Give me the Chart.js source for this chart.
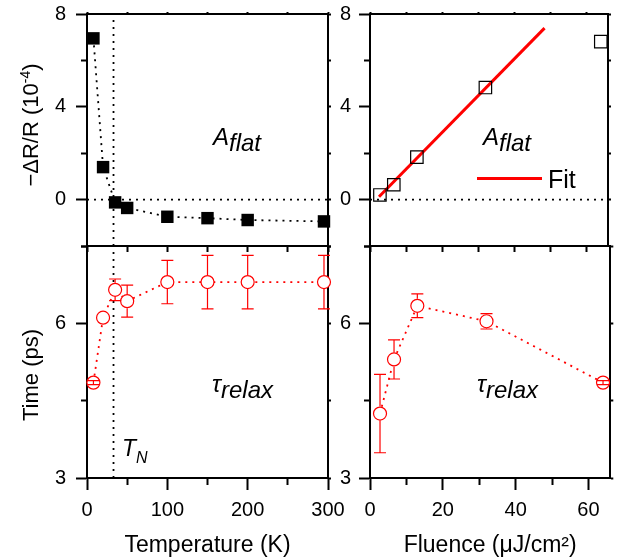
<!DOCTYPE html>
<html><head><meta charset="utf-8">
<script src="https://cdn.jsdelivr.net/npm/chart.js@4.4.1/dist/chart.umd.min.js"></script>
<style>
html,body{margin:0;padding:0;background:#fff;}
#wrap{position:relative;width:618px;height:557px;overflow:hidden;background:#fff;}
canvas{position:absolute;left:0;top:0;}
.lbl{position:absolute;white-space:nowrap;color:#000;font-family:"Liberation Sans",Arial,sans-serif;line-height:1;}
.ann{font-size:24px;font-style:italic;}
.ann .s{position:relative;top:6px;font-style:italic;}
.ytitle{font-size:22px;transform:translate(-50%,-50%) rotate(-90deg);}
.ytitle sup{font-size:14px;position:relative;top:-2px;vertical-align:top;}
</style></head><body>
<div id="wrap">
<canvas id="cTL" width="618" height="557"></canvas>
<canvas id="cBL" width="618" height="557"></canvas>
<canvas id="cTR" width="618" height="557"></canvas>
<canvas id="cBR" width="618" height="557"></canvas>
<div class="lbl ytitle" style="left:31px;top:125px">&minus;&Delta;R/R (10<sup>-4</sup>)</div>
<div class="lbl ytitle" style="left:31px;top:375px">Time (ps)</div>
<div class="lbl ann" style="left:213px;top:125px">A<span class="s">flat</span></div>
<div class="lbl ann" style="left:483px;top:125px">A<span class="s">flat</span></div>
<div class="lbl ann" style="left:212px;top:372px">&tau;<span class="s">relax</span></div>
<div class="lbl ann" style="left:477px;top:372px">&tau;<span class="s">relax</span></div>
<div class="lbl ann" style="left:122px;top:437px;font-size:23px">T<span class="s" style="font-size:16px;top:7px">N</span></div>
<div style="position:absolute;left:477px;top:177px;width:65px;height:3px;background:#ff0000"></div>
<div class="lbl" style="left:548px;top:167px;font-size:25px">Fit</div>
</div>
<script>
// ---- data ----
const temperature      = [8, 20, 35, 50, 100, 150, 200, 295];
const aflatVsTemp      = [6.95, 1.4, -0.12, -0.36, -0.74, -0.8, -0.88, -0.94];
const tauVsTemp        = [4.85, 6.11, 6.65, 6.43, 6.8, 6.8, 6.8, 6.8];
const tauVsTempErr     = [0.04, null, 0.21, 0.31, 0.42, 0.52, 0.52, 0.52];
const fluence          = [2.75, 6.6, 13, 32, 64];
const aflatVsFluence   = [0.2, 0.64, 1.83, 4.83, 6.81];
const tauVsFluence     = [4.25, 5.3, 6.34, 6.04, 4.85];
const tauVsFluenceErr  = [0.76, 0.38, 0.23, 0.15, 0.04];
const fitFluence       = [2.5, 48.4];
const fitAflat         = [0.12, 7.39];
const tNeel            = 33;
const tempTickLabels   = [0, 100, 200, 300];
const fluenceTickLabels= [0, 20, 40, 60];
const aflatTickLabels  = [0, 4, 8];
const tauTickLabels    = [3, 6];

const FONT = "'Liberation Sans', Arial, sans-serif";
const W = 618, H = 557;
const RED = '#ff0000';

function pts(xs, ys){ return xs.map((x,i)=>({x:x, y:ys[i]})); }

const errorBars = {
  id:'errorBars',
  afterDatasetsDraw(chart){
    const ctx = chart.ctx, xs = chart.scales.x, ys = chart.scales.y;
    chart.data.datasets.forEach(ds=>{
      if(!ds.errors) return;
      ctx.save();
      ctx.strokeStyle = ds.borderColor; ctx.lineWidth = 1.2; ctx.setLineDash([]);
      const r = ds.pointRadius + 0.5;
      ds.data.forEach((p,j)=>{
        const e = ds.errors[j];
        if (e === null || e === undefined) return;
        const px = xs.getPixelForValue(p.x), py = ys.getPixelForValue(p.y);
        const top = ys.getPixelForValue(p.y+e), bot = ys.getPixelForValue(p.y-e);
        ctx.beginPath();
        if (py-top > r){ ctx.moveTo(px,top); ctx.lineTo(px,py-r); ctx.moveTo(px,py+r); ctx.lineTo(px,bot); }
        else { ctx.moveTo(px,top); ctx.lineTo(px,bot); }
        ctx.moveTo(px-6,top); ctx.lineTo(px+6,top);
        ctx.moveTo(px-6,bot); ctx.lineTo(px+6,bot);
        ctx.stroke();
      });
      ctx.restore();
    });
  }
};

function labelCb(labels){ return v => labels.includes(v) ? String(v) : ''; }
function stepTicks(min, max, step){
  return s => {
    const t = [];
    for (let i = 0; min + i*step <= max + 1e-9; i++) t.push({value: Math.round((min + i*step)*1000)/1000});
    s.ticks = t;
  };
}
function noPad(s){ s.paddingTop = 0; s.paddingBottom = 0; s.paddingLeft = 0; s.paddingRight = 0; }

function xBottom(o){
  return {type:'linear', position:'bottom', min:o.min, max:o.max,
    afterBuildTicks: stepTicks(o.min, o.max, o.step),
    ticks:{autoSkip:false, maxRotation:0, display:o.showLabels, padding:8,
      color:'#000', font:{family:FONT, size:20}, callback:labelCb(o.labels)},
    grid:{drawOnChartArea:false, drawTicks:true, tickLength:o.tickLen, tickWidth:2, tickColor:'#000',
      tickBorderDash: c => (o.minorDash && c.tick && !o.labels.includes(c.tick.value)) ? [6,100] : []},
    border:{display:true, color:'#000', width:2},
    title:{display:!!o.title, text:o.title||'', color:'#000', font:{family:FONT, size:23, lineHeight:1}, padding:0},
    afterFit: s => { s.height = o.height; noPad(s); }};
}
function xTop(o){
  return {type:'linear', position:'top', min:o.min, max:o.max,
    afterBuildTicks: stepTicks(o.min, o.max, o.step),
    ticks:{display:false},
    grid:{drawOnChartArea:false, drawTicks:o.tick, tickLength:2, tickWidth:2, tickColor:'#000'},
    border:{display:true, color:'#000', width:2},
    afterFit: s => { s.height = o.height; noPad(s); }};
}
function yLeft(o){
  return {type:'linear', position:'left', min:o.min, max:o.max,
    afterBuildTicks: stepTicks(o.min, o.max, o.step),
    ticks:{autoSkip:false, padding:o.pad, color:'#000', font:{family:FONT, size:20}, callback:labelCb(o.labels)},
    grid:{drawOnChartArea:false, tickLength:11, tickWidth:2, tickColor:'#000',
      tickBorderDash: c => (c.tick && !o.labels.includes(c.tick.value)) ? [0,5,6,100] : []},
    border:{display:true, color:'#000', width:2},
    afterFit: s => { s.width = o.width; noPad(s); }};
}
function yRight(o){
  return {type:'linear', position:'right', min:o.min, max:o.max,
    afterBuildTicks: stepTicks(o.min, o.max, o.step),
    ticks:{display:false},
    grid:{drawOnChartArea:false, tickLength:3, tickWidth:2, tickColor:'#000'},
    border:{display:true, color:'#000', width:2},
    afterFit: s => { s.width = o.width; noPad(s); }};
}

function dottedLine(data, color){
  return {data:data, showLine:true, borderColor:color||'#000', borderWidth:1.8, borderDash:[2,5],
    pointRadius:0, pointHoverRadius:0, clip:false};
}

function make(id, datasets, scales){
  return new Chart(document.getElementById(id), {
    type:'scatter',
    data:{datasets:datasets},
    options:{responsive:false, animation:false, devicePixelRatio:1,
      layout:{padding:0},
      plugins:{legend:{display:false}, tooltip:{enabled:false}},
      scales:scales},
    plugins:[errorBars]
  });
}

// panel rectangles
const L1 = 87, R1 = 328, L2 = 370, R2 = 611, T = 14, M = 246, B = 478;

// Top-left: A_flat vs temperature
make('cTL', [
  {data:pts(temperature, aflatVsTemp), showLine:true, borderColor:'#000', borderWidth:1.8, borderDash:[2,5],
   pointStyle:'rect', pointRadius:8.8, pointHoverRadius:8.8, pointBackgroundColor:'#000', pointBorderWidth:0, clip:false},
  dottedLine([{x:0,y:0},{x:300,y:0}]),
  dottedLine([{x:tNeel,y:-2},{x:tNeel,y:8}])
], {
  x: xBottom({min:0,max:300,step:50,labels:tempTickLabels,showLabels:false,tickLen:6,height:H-M}),
  x2: xTop({min:0,max:300,step:50,tick:true,height:T}),
  y: yLeft({min:-2,max:8,step:2,labels:aflatTickLabels,pad:10,width:L1}),
  y2: yRight({min:-2,max:8,step:2,width:W-R1})
});

// Bottom-left: tau vs temperature
make('cBL', [
  {data:pts(temperature, tauVsTemp), errors:tauVsTempErr, showLine:true, borderColor:RED, borderWidth:1.8, borderDash:[2,5],
   pointStyle:'circle', pointRadius:6.5, pointHoverRadius:6.5, pointBackgroundColor:'#fff', pointBorderColor:RED, pointBorderWidth:1.2, clip:false},
  dottedLine([{x:tNeel,y:3},{x:tNeel,y:7.5}])
], {
  x: xBottom({min:0,max:300,step:50,labels:tempTickLabels,showLabels:true,minorDash:true,tickLen:12,height:H-B,title:'Temperature (K)'}),
  x2: xTop({min:0,max:300,step:50,tick:false,height:M}),
  y: yLeft({min:3,max:7.5,step:1.5,labels:tauTickLabels,pad:10,width:L1}),
  y2: yRight({min:3,max:7.5,step:1.5,width:W-R1})
});

// Top-right: A_flat vs fluence
make('cTR', [
  {data:pts(fluence, aflatVsFluence), showLine:false, borderColor:'#000',
   pointStyle:'rect', pointRadius:8.8, pointHoverRadius:8.8, pointBackgroundColor:'rgba(0,0,0,0)', pointBorderColor:'#000', pointBorderWidth:1.2, clip:false},
  {data:pts(fitFluence, fitAflat), showLine:true, borderColor:RED, borderWidth:3, pointRadius:0, pointHoverRadius:0, clip:false},
  dottedLine([{x:0,y:0},{x:66,y:0}])
], {
  x: xBottom({min:0,max:66,step:10,labels:fluenceTickLabels,showLabels:false,tickLen:6,height:H-M}),
  x2: xTop({min:0,max:66,step:10,tick:true,height:T}),
  y: yLeft({min:-2,max:8,step:2,labels:aflatTickLabels,pad:8,width:L2}),
  y2: yRight({min:-2,max:8,step:2,width:W-R2})
});

// Bottom-right: tau vs fluence
make('cBR', [
  {data:pts(fluence, tauVsFluence), errors:tauVsFluenceErr, showLine:true, borderColor:RED, borderWidth:1.8, borderDash:[2,5],
   pointStyle:'circle', pointRadius:6.5, pointHoverRadius:6.5, pointBackgroundColor:'#fff', pointBorderColor:RED, pointBorderWidth:1.2, clip:false}
], {
  x: xBottom({min:0,max:66,step:10,labels:fluenceTickLabels,showLabels:true,minorDash:true,tickLen:12,height:H-B,title:'Fluence (\u03bcJ/cm\u00b2)'}),
  x2: xTop({min:0,max:66,step:10,tick:false,height:M}),
  y: yLeft({min:3,max:7.5,step:1.5,labels:tauTickLabels,pad:8,width:L2}),
  y2: yRight({min:3,max:7.5,step:1.5,width:W-R2})
});
</script>
</body></html>
